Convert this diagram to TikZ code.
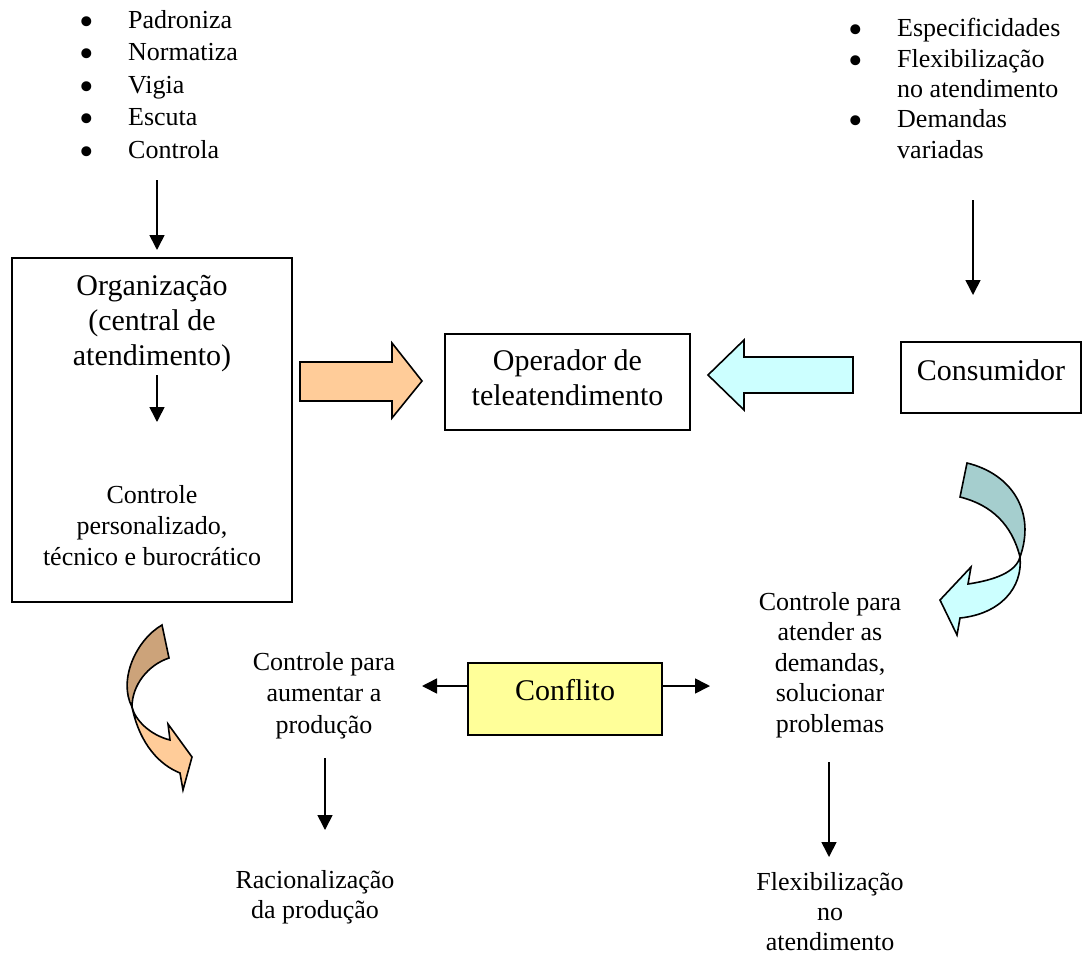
\documentclass[tikz,border=0pt]{standalone}
\usepackage{fontspec}
\setmainfont{Liberation Serif}
\usetikzlibrary{arrows.meta}
\definecolor{orangeA}{HTML}{FFCC99}
\definecolor{orangeB}{HTML}{CCA37A}
\definecolor{cyanA}{HTML}{CCFFFF}
\definecolor{cyanB}{HTML}{A5CECE}
\definecolor{yellowA}{HTML}{FFFF99}
\newcommand{\bigbul}{\makebox[46.5pt][l]{\hspace*{-2pt}\smash{\raisebox{-7pt}{\scalebox{1.6}{•}}}}}
\tikzset{
  smalltxt/.style={font=\fontsize{26}{31}\selectfont, align=center, inner sep=0pt, anchor=base},
  bigtxt/.style={font=\fontsize{30}{35}\selectfont, align=center, inner sep=0pt, anchor=base},
  listtxt/.style={align=left, inner sep=0pt, anchor=base west},
  boxframe/.style={draw=black, line width=1.6pt},
  arr/.style={line width=1.6pt, -{Triangle[width=15pt,length=15pt]}},
  blockarrow/.style={draw=black, line width=1.6pt, line join=miter},
}
\begin{document}
\begin{tikzpicture}[x=1pt,y=-1pt]
\useasboundingbox (0,0) rectangle (1083,955);

% boxes
\draw[boxframe] (12,258) rectangle (292,602);
\draw[boxframe] (445,334) rectangle (690,430);
\draw[boxframe] (901,342) rectangle (1081,413);
\draw[boxframe, fill=yellowA] (468,663) rectangle (662,735);

% bullet lists (anchor = baseline of the last line)
\node[listtxt, font=\fontsize{26}{32.5}\selectfont] (lstL) at (81.5,158)
 {\bigbul Padroniza\\
  \bigbul Normatiza\\
  \bigbul Vigia\\
  \bigbul Escuta\\
  \bigbul Controla};
\node[listtxt, font=\fontsize{26}{30.3}\selectfont] (lstR) at (850.5,158)
 {\bigbul Especificidades\\
  \bigbul Flexibilização\\
  \hspace*{46.5pt}no atendimento\\
  \bigbul Demandas\\
  \hspace*{46.5pt}variadas};

% texts (anchor = baseline of the last line)
\node[bigtxt] (org) at (152,365) {Organização\\(central de\\atendimento)};
\node[smalltxt] (ctrlp) at (152,565) {Controle\\personalizado,\\técnico e burocrático};
\node[bigtxt] (oper) at (567.5,405) {Operador de\\teleatendimento};
\node[bigtxt] (cons) at (991,380) {Consumidor};
\node[bigtxt] (conftxt) at (565,700) {Conflito};
\node[smalltxt, font=\fontsize{26}{31.5}\selectfont] (cprod) at (324,733) {Controle para\\aumentar a\\produção};
\node[smalltxt, font=\fontsize{26}{30}\selectfont] (racio) at (315,918) {Racionalização\\da produção};
\node[smalltxt, font=\fontsize{26}{30.5}\selectfont] (cdem) at (830,732) {Controle para\\atender as\\demandas,\\solucionar\\problemas};
\node[smalltxt, font=\fontsize{26}{30}\selectfont] (flex) at (830,950) {Flexibilização\\no\\atendimento};

% thin arrows
\coordinate (a1s) at (157,180); \coordinate (a1e) at (157,250);
\draw[arr] (a1s) -- (a1e);
\coordinate (a2s) at (157,375); \coordinate (a2e) at (157,422);
\draw[arr] (a2s) -- (a2e);
\coordinate (a3s) at (973,200); \coordinate (a3e) at (973,295);
\draw[arr] (a3s) -- (a3e);
\coordinate (a4s) at (325,758); \coordinate (a4e) at (325,830);
\draw[arr] (a4s) -- (a4e);
\coordinate (a5s) at (829,762); \coordinate (a5e) at (829,857);
\draw[arr] (a5s) -- (a5e);
\coordinate (cL) at (468,686); \coordinate (cLe) at (422,686);
\coordinate (cR) at (662,686); \coordinate (cRe) at (710,686);
\draw[arr] (cL) -- (cLe);
\draw[arr] (cR) -- (cRe);

% block arrows
\draw[blockarrow, fill=orangeA] (300,362) -- (392,362) -- (392,343) -- (422,381)
  -- (392,418) -- (392,401) -- (300,401) -- cycle;
\draw[blockarrow, fill=cyanA] (853,357) -- (744,357) -- (744,340) -- (708,375)
  -- (744,410) -- (744,393) -- (853,393) -- cycle;

% curved arrow right (cyan)
\draw[blockarrow, fill=cyanB] (967,463) .. controls (1012,474) and (1036,512) .. (1020,557)
  .. controls (1012,525) and (992,505) .. (960,497) -- cycle;
\draw[blockarrow, fill=cyanA] (1020,557) .. controls (1023,588) and (1000,614) .. (960,618)
  -- (957,635) -- (940,600) -- (971,567) -- (968,584)
  .. controls (995,580) and (1016,572) .. (1020,557) -- cycle;

% curved arrow left (orange)
\draw[blockarrow, fill=orangeB] (162,625) .. controls (136,640) and (118,680) .. (132,707)
  .. controls (132,685) and (148,665) .. (169,658) -- cycle;
\draw[blockarrow, fill=orangeA] (132,707) .. controls (140,745) and (160,765) .. (180,773)
  -- (183,790) -- (192,757) -- (168,724) -- (170,740)
  .. controls (150,735) and (135,720) .. (132,707) -- cycle;
\end{tikzpicture}
\end{document}
